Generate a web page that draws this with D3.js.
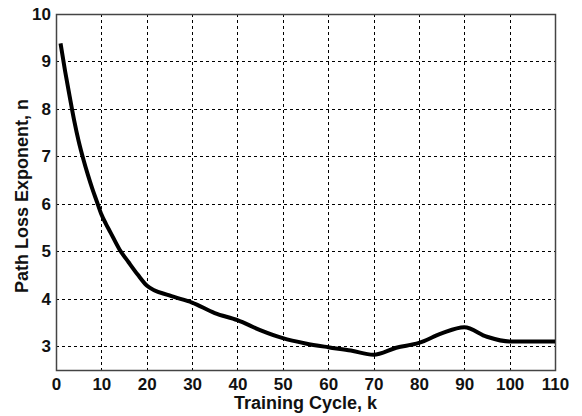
<!DOCTYPE html>
<html>
<head>
<meta charset="utf-8">
<script src="https://cdn.jsdelivr.net/npm/d3@7"></script>
<style>
  body { margin: 0; background: #fff; }
  svg text { font-family: Arial, "Liberation Sans", sans-serif; font-weight: bold; fill: #111; }
</style>
</head>
<body>
<div id="chart"></div>
<script>
// training cycle k and path loss exponent n
const cycles = [1, 2, 3, 4, 5, 6, 7, 8, 9, 10, 11, 12, 14, 16, 18, 20, 25, 30, 35, 40, 45, 50, 55, 60, 65, 70, 75, 80, 85, 90, 95, 100, 105, 110];
const exponent = [9.38, 8.8, 8.27, 7.76, 7.32, 6.95, 6.62, 6.32, 6.05, 5.78, 5.58, 5.4, 5.04, 4.77, 4.51, 4.28, 4.07, 3.92, 3.7, 3.55, 3.34, 3.17, 3.06, 2.98, 2.91, 2.82, 2.97, 3.07, 3.27, 3.4, 3.2, 3.1, 3.1, 3.1];
const xTicks = [0, 10, 20, 30, 40, 50, 60, 70, 80, 90, 100, 110];
const yTicks = [3, 4, 5, 6, 7, 8, 9, 10];

const width = 582, height = 416;
const margin = { top: 14, right: 27, bottom: 46, left: 56 };
const innerW = width - margin.left - margin.right;
const innerH = height - margin.top - margin.bottom;

const svg = d3.select("#chart").append("svg")
  .attr("width", width)
  .attr("height", height);

const g = svg.append("g")
  .attr("transform", `translate(${margin.left},${margin.top})`);

const x = d3.scaleLinear().domain([0, 110]).range([0, innerW]);
const y = d3.scaleLinear().domain([2.5, 10]).range([innerH, 0]);

// dotted grid
g.append("g")
  .selectAll("line")
  .data(xTicks.slice(1, -1))
  .join("line")
  .attr("x1", d => Math.round(x(d)) + 0.5)
  .attr("x2", d => Math.round(x(d)) + 0.5)
  .attr("y1", 0)
  .attr("y2", innerH)
  .attr("stroke", "#000")
  .attr("stroke-dasharray", "3,3");

g.append("g")
  .selectAll("line")
  .data(yTicks.slice(0, -1))
  .join("line")
  .attr("y1", d => Math.round(y(d)) + 0.5)
  .attr("y2", d => Math.round(y(d)) + 0.5)
  .attr("x1", 0)
  .attr("x2", innerW)
  .attr("stroke", "#000")
  .attr("stroke-dasharray", "3,3");

// axes (labels only, box drawn separately)
const xAxis = g.append("g")
  .attr("transform", `translate(0,${innerH})`)
  .call(d3.axisBottom(x).tickValues(xTicks).tickSize(0).tickPadding(8));
xAxis.select(".domain").remove();
xAxis.selectAll("text").attr("font-size", 17);

const yAxis = g.append("g")
  .call(d3.axisLeft(y).tickValues(yTicks).tickSize(0).tickPadding(5));
yAxis.select(".domain").remove();
yAxis.selectAll("text").attr("font-size", 17);

// plot box
g.append("rect")
  .attr("x", 0.5)
  .attr("y", 0.5)
  .attr("width", innerW)
  .attr("height", innerH)
  .attr("fill", "none")
  .attr("stroke", "#444")
  .attr("stroke-width", 1.5);

// curve
const line = d3.line()
  .x((d, i) => x(cycles[i]))
  .y(d => y(d))
  .curve(d3.curveMonotoneX);

g.append("path")
  .datum(exponent)
  .attr("d", line)
  .attr("fill", "none")
  .attr("stroke", "#000")
  .attr("stroke-width", 4)
  .attr("stroke-linejoin", "round");

// axis titles
svg.append("text")
  .attr("x", margin.left + innerW / 2)
  .attr("y", 409)
  .attr("text-anchor", "middle")
  .attr("font-size", 18)
  .text("Training Cycle, k");

svg.append("text")
  .attr("transform", `translate(28,${margin.top + innerH / 2 + 4}) rotate(-90)`)
  .attr("text-anchor", "middle")
  .attr("font-size", 18)
  .text("Path Loss Exponent, n");
</script>
</body>
</html>
